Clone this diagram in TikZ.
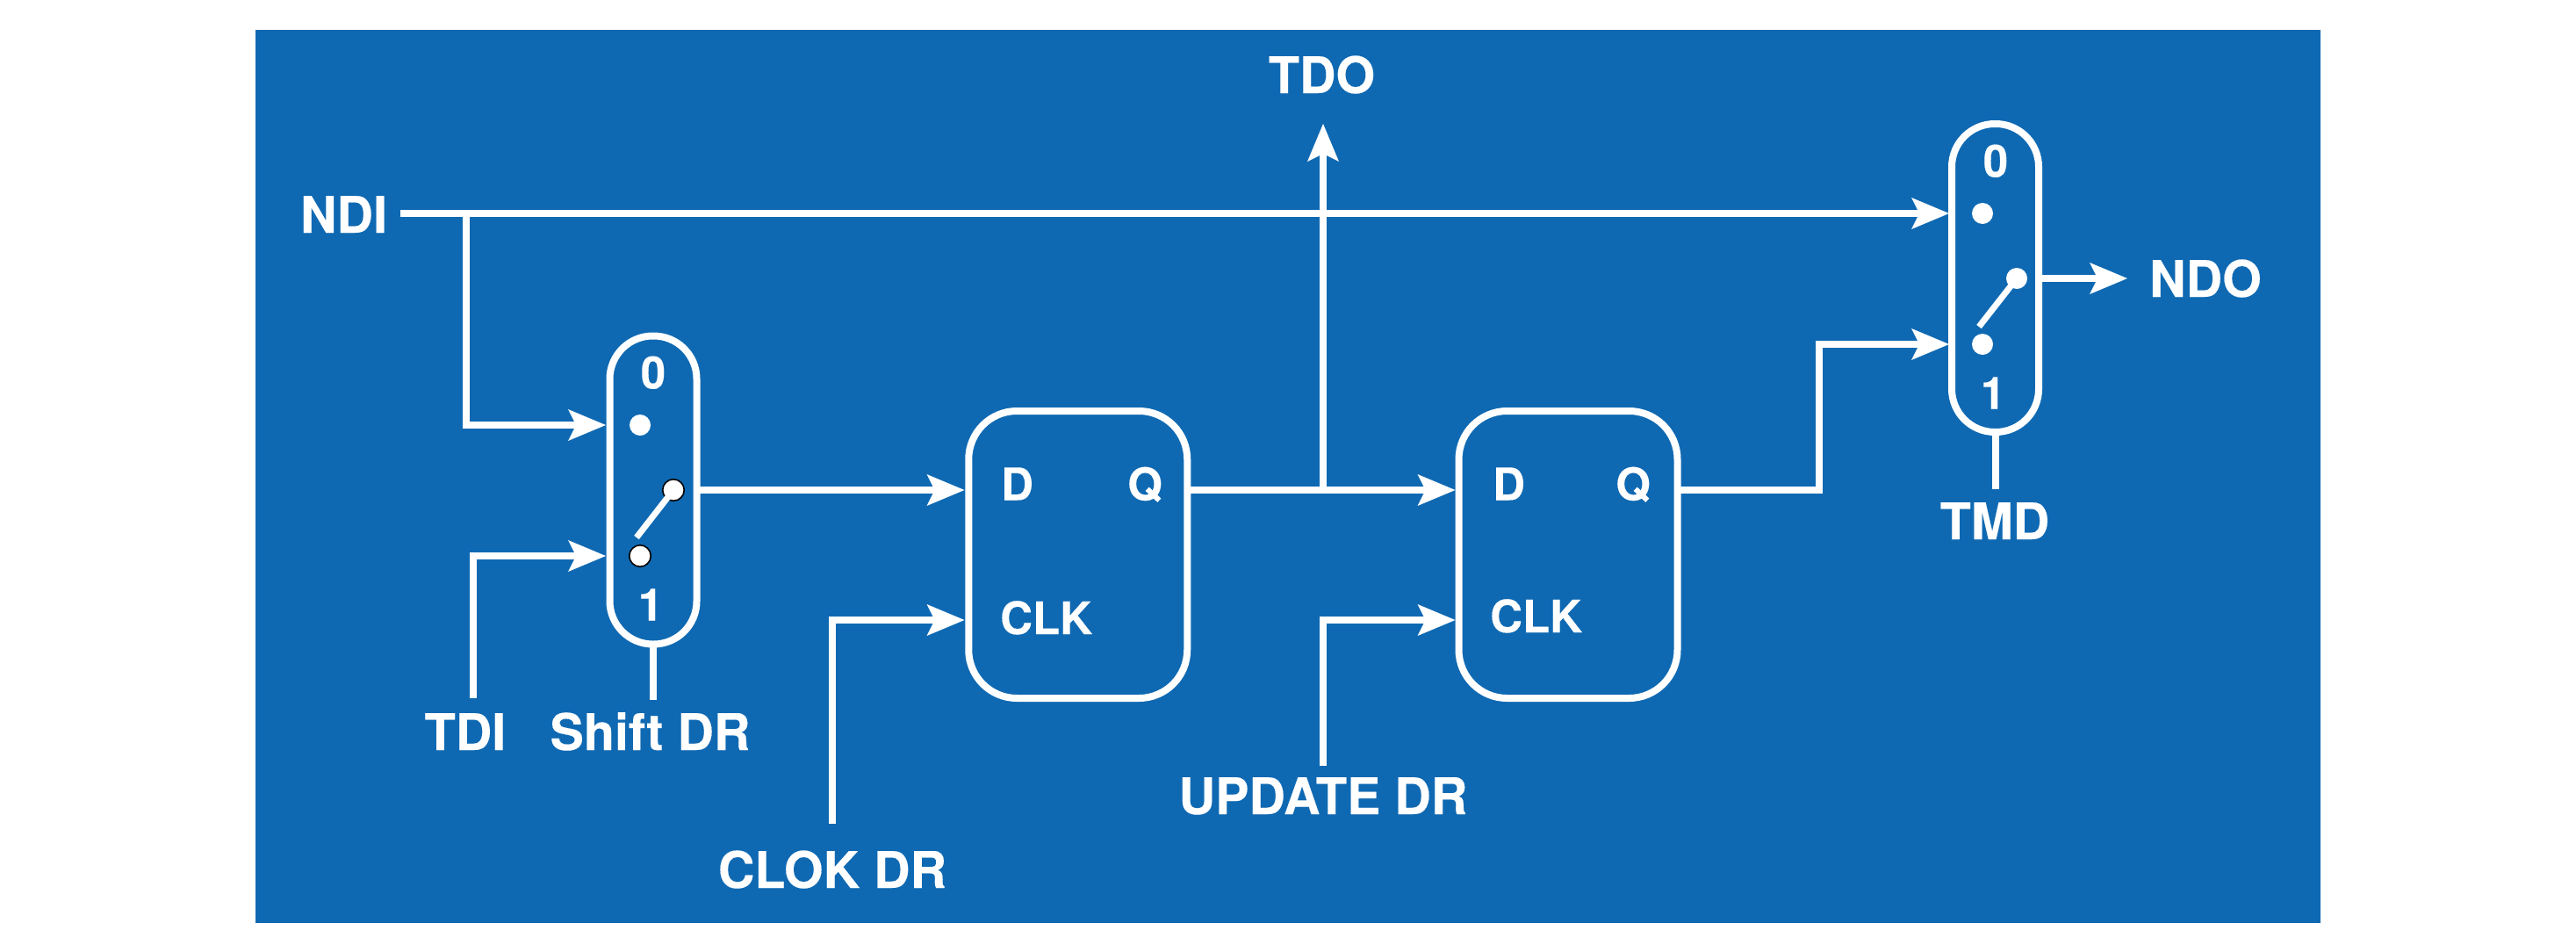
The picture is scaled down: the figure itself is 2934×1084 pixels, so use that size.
\documentclass[tikz,border=0pt]{standalone}
\usepackage{fontspec}
\setmainfont[BoldFeatures={FakeBold=0.25}]{TeX Gyre Heros}
\usetikzlibrary{arrows.meta}
\definecolor{panelblue}{HTML}{0F69B2}
\tikzset{
  x=1pt,y=-1pt,
  wire/.style={draw=white,line width=8pt,line cap=butt,line join=miter},
  arrowwire/.style={wire,-{Stealth[length=43pt,width=36pt,inset=9pt,line width=0pt]}},
  muxbox/.style={draw=white,line width=8pt,rounded corners=49pt,inner sep=0pt,outer sep=0pt,minimum width=99pt,minimum height=351pt},
  ffbox/.style={draw=white,line width=8pt,rounded corners=55pt,inner sep=0pt,outer sep=0pt,minimum width=249pt,minimum height=327pt},
  biglabel/.style={text=white,inner sep=0pt,anchor=base,font=\fontsize{57.5}{60}\selectfont\bfseries},
  smalllabel/.style={text=white,inner sep=0pt,anchor=base,font=\fontsize{51}{54}\selectfont\bfseries},
  pinleft/.style={smalllabel,anchor=base west},
  contact/.style={circle,fill=white,inner sep=0pt,minimum size=24pt},
  ringcontact/.style={circle,fill=white,draw=black,line width=1.6pt,inner sep=0pt,minimum size=24.5pt},
  lever/.style={draw=white,line width=7pt,line cap=butt},
}
\begin{document}
\begin{tikzpicture}
\path[fill=white] (0,0) rectangle (2934,1084);
\fill[panelblue] (291,34) rectangle (2642.5,1051);

% boxes
\node[muxbox] (mA) at (744,558) {};
\node[muxbox] (mB) at (2272.5,316.5) {};
\node[ffbox] (fA) at (1227.75,631.5) {};
\node[ffbox] (fB) at (1786,631.5) {};

% labels
\node[biglabel] (lNDI) at (391.5,265) {NDI};
\node[biglabel] (lTDO) at (1505.5,106) {TDO};
\node[biglabel] (lNDO) at (2512,338) {NDO};
\node[biglabel] (lTMD) at (2272,614) {TMD};
\node[biglabel] (lTDI) at (530,854) {TDI};
\node[biglabel] (lSH) at (740.5,854) {Shift DR};
\node[biglabel] (lCK) at (948,1011) {CLOK DR};
\node[biglabel] (lUP) at (1507,927) {UPDATE DR};

\node[smalllabel] (mA0) at (744,442.5) {0};
\node[smalllabel] (mA1) at (741,706.5) {1};
\node[smalllabel] (mB0) at (2273,201.5) {0};
\node[smalllabel] (mB1) at (2270,465.5) {1};

\node[pinleft] (fAD) at (1140,569.5) {D};
\node[pinleft] (fAQ) at (1284,569.5) {Q};
\node[pinleft] (fAC) at (1139,722) {CLK};
\node[pinleft] (fBD) at (1700,569.5) {D};
\node[pinleft] (fBQ) at (1840,569.5) {Q};
\node[pinleft] (fBC) at (1697,720) {CLK};

% switch contacts
\node[contact] (cA0) at (729,484) {};
\node[ringcontact] (cA1) at (729,633) {};
\node[ringcontact] (cAp) at (767,558) {};
\node[contact] (cB0) at (2258,243) {};
\node[contact] (cB1) at (2258,392) {};
\node[contact] (cBp) at (2297,317) {};
\coordinate (sA) at (725,612);
\coordinate (sB) at (2254,372);
\draw[lever] (sA) -- (cAp.center);
\draw[lever] (sB) -- (cBp.center);

% ports and free ends
\coordinate (mAi0) at (690,484);
\coordinate (mAi1) at (690,633);
\coordinate (mBi0) at (2220,243);
\coordinate (mBi1) at (2220,392);
\coordinate (fAD0) at (1098.5,558);
\coordinate (fAC0) at (1098.5,706);
\coordinate (fBD0) at (1657.5,558);
\coordinate (fBC0) at (1657.5,706);
\coordinate (ndiS) at (456,243);
\coordinate (tdiS) at (539,795);
\coordinate (ckS) at (948,938);
\coordinate (upS) at (1507,872);
\coordinate (shE) at (744,797);
\coordinate (tmE) at (2272.5,557);
\coordinate (tdoT) at (1507,141);
\coordinate (ndoT) at (2423,317);
\coordinate (jTDO) at (1507,558);

% connectors
\draw[arrowwire] (ndiS) -- (mBi0);
\draw[arrowwire] (531,243) |- (mAi0);
\draw[arrowwire] (tdiS) |- (mAi1);
\draw[arrowwire] (mA.east |- cAp) -- (fAD0);
\draw[arrowwire] (ckS) |- (fAC0);
\draw[arrowwire] (fA.east |- fAD0) -- (fBD0);
\draw[arrowwire] (jTDO) -- (tdoT);
\draw[arrowwire] (upS) |- (fBC0);
\draw[arrowwire] (fB.east |- fBD0) -| (2072,392) -- (mBi1);
\draw[arrowwire] (mB.east |- cBp) -- (ndoT);
\draw[wire] (mA.south) -- (shE);
\draw[wire] (mB.south) -- (tmE);
\end{tikzpicture}
\end{document}
